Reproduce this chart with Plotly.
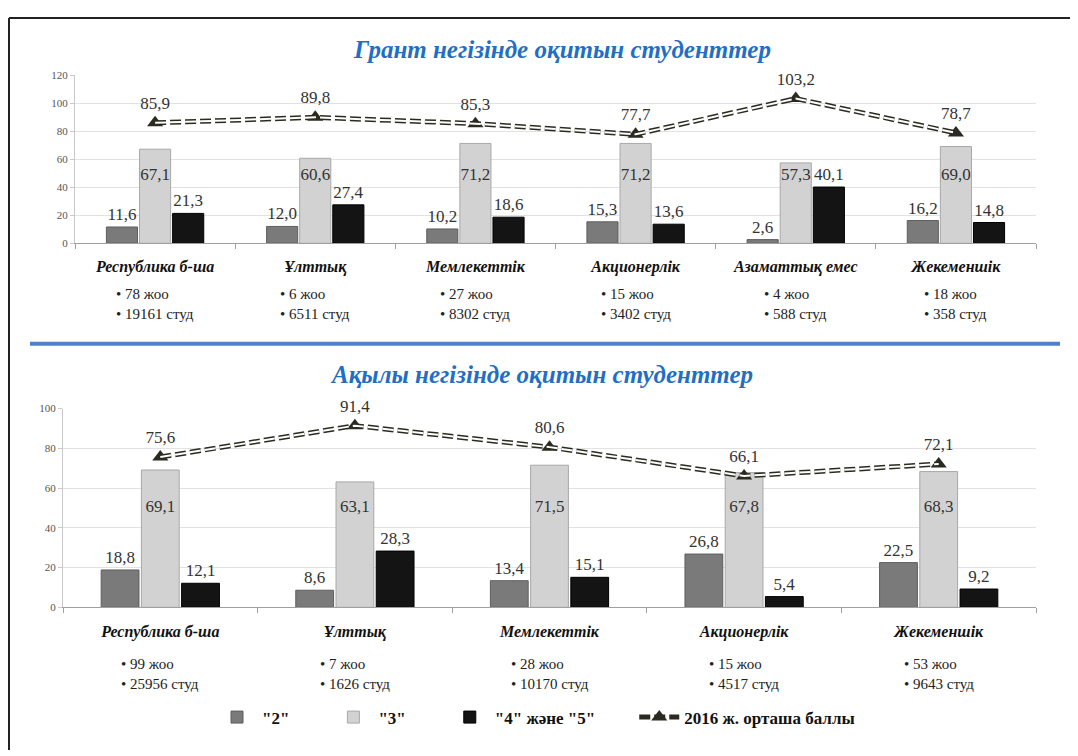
import plotly.graph_objects as go

# --- Грант негізінде ---
kat_grant = ["Республика б-ша", "Ұлттық", "Мемлекеттік", "Акционерлік", "Азаматтық емес", "Жекеменшік"]
grant_2 = [11.6, 12.0, 10.2, 15.3, 2.6, 16.2]
grant_3 = [67.1, 60.6, 71.2, 71.2, 57.3, 69.0]
grant_45 = [21.3, 27.4, 18.6, 13.6, 40.1, 14.8]
grant_ball = [85.9, 89.8, 85.3, 77.7, 103.2, 78.7]
grant_zhoo = [78, 6, 27, 15, 4, 18]
grant_stud = [19161, 6511, 8302, 3402, 588, 358]

# --- Ақылы негізінде ---
kat_akyly = ["Республика б-ша", "Ұлттық", "Мемлекеттік", "Акционерлік", "Жекеменшік"]
akyly_2 = [18.8, 8.6, 13.4, 26.8, 22.5]
akyly_3 = [69.1, 63.1, 71.5, 67.8, 68.3]
akyly_45 = [12.1, 28.3, 15.1, 5.4, 9.2]
akyly_ball = [75.6, 91.4, 80.6, 66.1, 72.1]
akyly_zhoo = [99, 7, 28, 15, 53]
akyly_stud = [25956, 1626, 10170, 4517, 9643]

legend_names = ['"2"', '"3"', '"4" және "5"', "2016 ж. орташа баллы"]

# беттің 8px шегінісі ескеріледі
OFF = 8
W, H = 1078 - OFF, 756 - OFF
SERIF = '"Liberation Serif", "Times New Roman", "DejaVu Serif", serif'
C2, C3, C45, CLINE = "#7a7a7a", "#d2d2d2", "#141414", "#2a2a20"
PAD = "\u2003\u2003"  # легенда элементтерінің арасы


def fx(px):
    return (px - OFF) / W


def fy(py):
    return 1 - (py - OFF) / H


def fmt(v):
    return f"{v:.1f}".replace(".", ",")


fig = go.Figure()


def panel(kat, s2, s3, s45, ball, xr, yr, legend, mid_y):
    fig.add_trace(go.Bar(x=kat, y=s2, name=legend_names[0] + PAD,
                         marker=dict(color=C2, line=dict(color="#5e5e5e", width=1)),
                         text=[fmt(v) for v in s2], textposition="outside", cliponaxis=False,
                         xaxis=xr, yaxis=yr, showlegend=legend))
    fig.add_trace(go.Bar(x=kat, y=s3, name=legend_names[1] + PAD,
                         marker=dict(color=C3, line=dict(color="#a8a8a8", width=1)),
                         xaxis=xr, yaxis=yr, showlegend=legend))
    fig.add_trace(go.Bar(x=kat, y=s45, name=legend_names[2] + PAD,
                         marker=dict(color=C45, line=dict(color="#000", width=1)),
                         text=[fmt(v) for v in s45], textposition="outside", cliponaxis=False,
                         xaxis=xr, yaxis=yr, showlegend=legend))
    # "3" бағанасының жазулары
    fig.add_trace(go.Scatter(x=kat, y=[mid_y] * len(kat), mode="text", text=[fmt(v) for v in s3],
                             textfont=dict(family=SERIF, size=17, color="#333"),
                             xaxis=xr, yaxis=yr, showlegend=False, hoverinfo="skip"))
    # орташа балл сызығы
    fig.add_trace(go.Scatter(x=kat, y=ball, mode="lines+markers+text", name=legend_names[3],
                             line=dict(color=CLINE, width=5, dash="11px,4px"),
                             marker=dict(symbol="triangle-up", size=14, color=CLINE),
                             text=[fmt(v) for v in ball], textposition="top center",
                             textfont=dict(family=SERIF, size=17, color="#333"), cliponaxis=False,
                             xaxis=xr, yaxis=yr, showlegend=legend))
    fig.add_trace(go.Scatter(x=kat, y=ball, mode="lines", line=dict(color="white", width=2, dash="11px,4px"),
                             xaxis=xr, yaxis=yr, showlegend=False, hoverinfo="skip"))


panel(kat_grant, grant_2, grant_3, grant_45, grant_ball, "x", "y", False, 48)
panel(kat_akyly, akyly_2, akyly_3, akyly_45, akyly_ball, "x2", "y2", True, 50)

ax_x = dict(type="category", showline=True, linecolor="#a0a0a0", ticks="outside", ticklen=5,
            tickcolor="#a0a0a0", tickson="boundaries", showgrid=False, ticklabelstandoff=9,
            tickfont=dict(family=SERIF, size=16, color="#111"))
ax_y = dict(showgrid=True, gridcolor="#e2e2e2", showline=True, linecolor="#c8c8c8", ticks="outside",
            ticklen=4, tickcolor="#c8c8c8", tickfont=dict(family=SERIF, size=11, color="#555"), zeroline=False)

fig.update_layout(
    xaxis=dict(ax_x, domain=[fx(75), fx(1036)], anchor="y",
               tickvals=kat_grant, ticktext=[f"<b><i>{k}</i></b>" for k in kat_grant]),
    yaxis=dict(ax_y, domain=[fy(241), fy(70)], range=[0, 120], dtick=20, anchor="x"),
    xaxis2=dict(ax_x, domain=[fx(63), fx(1036)], anchor="y2",
                tickvals=kat_akyly, ticktext=[f"<b><i>{k}</i></b>" for k in kat_akyly]),
    yaxis2=dict(ax_y, domain=[fy(611), fy(409)], range=[0, 100], dtick=20, anchor="x2"),
    barmode="group", bargap=0.38, bargroupgap=0.06,
    width=W, height=H, margin=dict(l=0, r=0, t=0, b=0),
    plot_bgcolor="white", paper_bgcolor="white",
    font=dict(family=SERIF, size=15, color="#222"),
    legend=dict(orientation="h", x=fx(536), xanchor="center", y=fy(723), yanchor="middle",
                font=dict(family=SERIF, size=17, color="#111", weight="bold"),
                itemwidth=40, traceorder="normal", bgcolor="rgba(0,0,0,0)"),
)
fig.update_traces(textfont=dict(family=SERIF, size=17, color="#333"), selector=dict(type="bar"))

# тақырыптар
for txt, x, y in [("Грант негізінде оқитын студенттер", 562, 44),
                  ("Ақылы негізінде оқитын студенттер", 541, 374)]:
    fig.add_annotation(text=f"<b><i>{txt}</i></b>", x=fx(x), y=fy(y), xref="paper", yref="paper",
                       xanchor="center", yanchor="middle", showarrow=False,
                       font=dict(family=SERIF, size=25, color="#1f6fc6"))

# жоо / студ жазулары
for kat, zhoo, stud, xr, ytop in [(kat_grant, grant_zhoo, grant_stud, "x", 282),
                                  (kat_akyly, akyly_zhoo, akyly_stud, "x2", 658)]:
    for k, z, s in zip(kat, zhoo, stud):
        fig.add_annotation(text=f"• {z} жоо<br>• {s} студ", x=k, xref=xr, y=fy(ytop), yref="paper",
                           yanchor="top", xanchor="center", align="left", showarrow=False,
                           font=dict(family=SERIF, size=15, color="#222"))

# бөлгіш сызық және жақтау
fig.add_shape(type="line", x0=fx(30), x1=fx(1060), y0=fy(343), y1=fy(343), xref="paper", yref="paper",
              line=dict(color="#4f83c8", width=4))
fig.add_shape(type="line", x0=fx(9), x1=1, y0=fy(12), y1=fy(12), xref="paper", yref="paper",
              line=dict(color="#222", width=2))
fig.add_shape(type="line", x0=fx(9), x1=fx(9), y0=fy(12), y1=0, xref="paper", yref="paper",
              line=dict(color="#222", width=2))

fig.write_html("out.html")
